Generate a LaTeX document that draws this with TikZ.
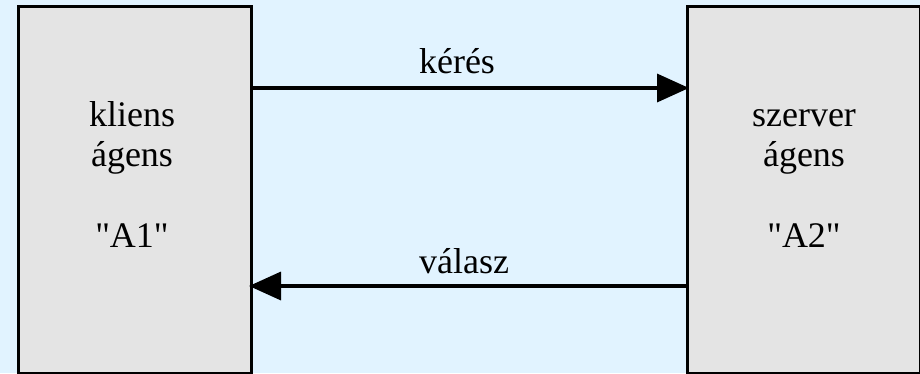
\documentclass[tikz,border=0pt]{standalone}
\usepackage{fontspec}
% keep straight quotes as typed
\setmainfont{Liberation Serif}[Ligatures=TeXOff]
\usetikzlibrary{arrows.meta}
\definecolor{bgblue}{HTML}{E1F3FF}
\definecolor{boxgray}{HTML}{E4E4E4}
\begin{document}
\begin{tikzpicture}[x=1pt,y=-1pt,
  agentbox/.style={draw=black,fill=boxgray,line width=3pt,rectangle,inner sep=0pt,outer sep=0pt,anchor=north west},
  lbl/.style={anchor=base,inner sep=0pt,font=\fontsize{36}{40}\selectfont},
  msg/.style={line width=3.5pt,shorten >=-2pt,-{Triangle[length=32pt,width=28pt]}}]
\useasboundingbox (0,0) rectangle (920,373);
\fill[bgblue] (0,0) rectangle (920,373);
\clip (0,0) rectangle (920,373);
% the two agents
\node[agentbox,minimum width=233pt,minimum height=367pt] (kliens) at (18,6) {};
\node[agentbox,minimum width=233pt,minimum height=367pt] (szerver) at (687,6) {};
% agent labels
\node[lbl] (k1) at (132,126) {kliens};
\node[lbl] (k2) at (132,166) {ágens};
\node[lbl] (k3) at (132,247) {"A1"};
\node[lbl] (s1) at (804,126) {szerver};
\node[lbl] (s2) at (804,166) {ágens};
\node[lbl] (s3) at (804,247) {"A2"};
% message anchors on the box sides
\coordinate (req0) at (kliens.east |- 0,88);
\coordinate (req1) at (szerver.west |- 0,88);
\coordinate (rep0) at (szerver.west |- 0,286);
\coordinate (rep1) at (kliens.east |- 0,286);
\draw[msg] (req0) -- (req1);
\draw[msg] (rep0) -- (rep1);
\node[lbl] (keres) at (457,73) {kérés};
\node[lbl] (valasz) at (464,273) {válasz};
\end{tikzpicture}
\end{document}
